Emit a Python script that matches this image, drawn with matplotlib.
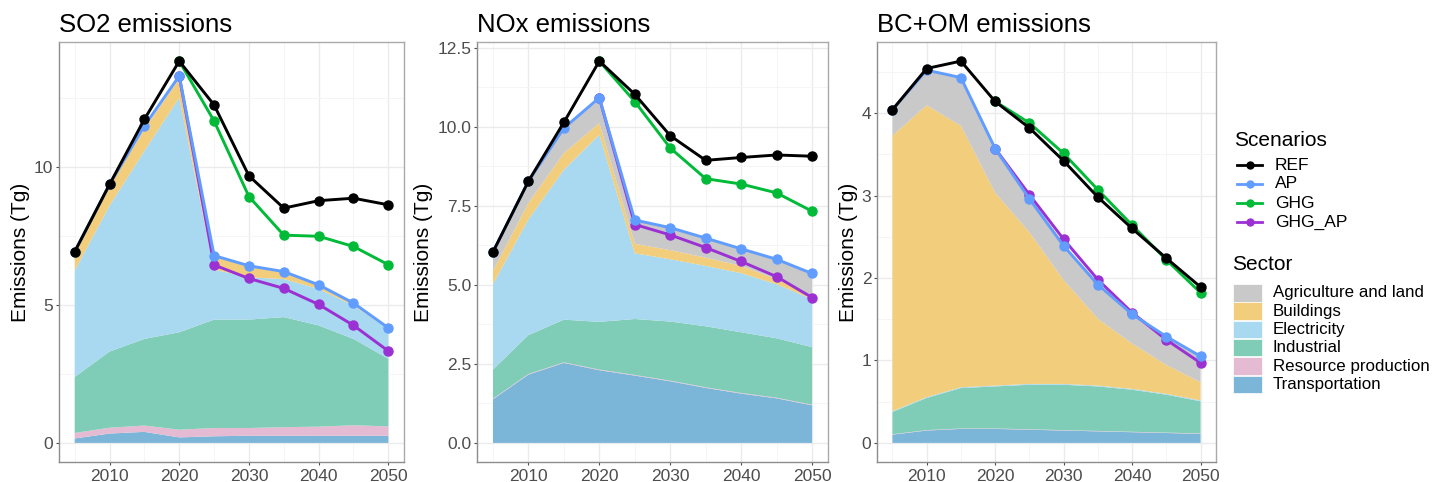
import matplotlib
matplotlib.use("Agg")
import matplotlib.pyplot as plt
from matplotlib.patches import Rectangle
from matplotlib.lines import Line2D

plt.rcParams['font.family'] = ['Liberation Sans', 'DejaVu Sans']

# ---- data ----
years = [2005, 2010, 2015, 2020, 2025, 2030, 2035, 2040, 2045, 2050]
years_fut = [2020, 2025, 2030, 2035, 2040, 2045, 2050]

sectors = ["Agriculture and land", "Buildings", "Electricity", "Industrial",
           "Resource production", "Transportation"]
sector_colors = ["#C9C9C9", "#F1CD7C", "#A9D8F1", "#7FCDB6", "#E5BBD3", "#7BB5D8"]

scenarios = ["REF", "AP", "GHG", "GHG_AP"]
scen_colors = ["#000000", "#619CFF", "#00BA38", "#9B30D3"]

# SO2 (Tg)
so2_ref = [6.93, 9.37, 11.73, 13.84, 12.25, 9.68, 8.51, 8.78, 8.87, 8.63]
so2_ap = [6.93, 9.37, 11.49, 13.30, 6.79, 6.42, 6.21, 5.73, 5.07, 4.17]
so2_ghg = [13.84, 11.67, 8.93, 7.53, 7.49, 7.12, 6.46]
so2_ghgap = [13.30, 6.45, 5.96, 5.60, 5.02, 4.26, 3.33]
so2_agri = [0.02, 0.02, 0.02, 0.02, 0.02, 0.02, 0.02, 0.02, 0.02, 0.02]
so2_bld = [0.66, 0.70, 0.79, 0.69, 0.47, 0.38, 0.22, 0.12, 0.05, 0.02]
so2_elec = [3.85, 5.29, 6.81, 8.50, 1.81, 1.53, 1.38, 1.32, 1.21, 1.08]
so2_ind = [2.03, 2.76, 3.14, 3.53, 3.93, 3.93, 3.99, 3.67, 3.13, 2.45]
so2_res = [0.20, 0.21, 0.23, 0.28, 0.30, 0.28, 0.31, 0.33, 0.38, 0.34]
so2_trn = [0.16, 0.34, 0.40, 0.20, 0.24, 0.26, 0.26, 0.26, 0.26, 0.26]

# NOx (Tg)
nox_ref = [6.04, 8.28, 10.14, 12.08, 11.03, 9.72, 8.94, 9.03, 9.11, 9.07]
nox_ap = [6.04, 8.28, 9.96, 10.92, 7.05, 6.81, 6.48, 6.14, 5.81, 5.36]
nox_ghg = [12.08, 10.80, 9.33, 8.36, 8.19, 7.91, 7.33]
nox_ghgap = [10.92, 6.91, 6.58, 6.18, 5.74, 5.26, 4.60]
nox_agri = [0.60, 0.69, 0.79, 0.73, 0.73, 0.70, 0.61, 0.53, 0.62, 0.70]
nox_bld = [0.42, 0.52, 0.53, 0.37, 0.30, 0.29, 0.26, 0.23, 0.16, 0.10]
nox_elec = [2.70, 3.66, 4.74, 5.92, 2.08, 1.97, 1.91, 1.87, 1.71, 1.52]
nox_ind = [0.92, 1.23, 1.35, 1.51, 1.77, 1.87, 1.93, 1.92, 1.88, 1.82]
nox_res = [0.02, 0.02, 0.02, 0.02, 0.02, 0.02, 0.02, 0.02, 0.02, 0.02]
nox_trn = [1.38, 2.16, 2.53, 2.30, 2.13, 1.95, 1.74, 1.56, 1.41, 1.19]

# BC+OM (Tg)
bc_ref = [4.04, 4.54, 4.63, 4.14, 3.82, 3.42, 2.98, 2.60, 2.24, 1.89]
bc_ap = [4.04, 4.52, 4.43, 3.57, 2.96, 2.39, 1.92, 1.56, 1.29, 1.05]
bc_ghg = [4.14, 3.88, 3.51, 3.07, 2.64, 2.22, 1.82]
bc_ghgap = [3.57, 3.01, 2.47, 1.98, 1.58, 1.25, 0.97]
bc_agri = [0.30, 0.43, 0.59, 0.54, 0.41, 0.42, 0.42, 0.36, 0.35, 0.32]
bc_bld = [3.34, 3.54, 3.17, 2.34, 1.84, 1.26, 0.81, 0.55, 0.35, 0.22]
bc_elec = [0.01, 0.01, 0.01, 0.01, 0.01, 0.01, 0.01, 0.01, 0.01, 0.01]
bc_ind = [0.27, 0.39, 0.49, 0.51, 0.54, 0.55, 0.54, 0.51, 0.46, 0.39]
bc_res = [0.005, 0.005, 0.005, 0.005, 0.005, 0.005, 0.005, 0.005, 0.005, 0.005]
bc_trn = [0.10, 0.15, 0.17, 0.17, 0.16, 0.15, 0.14, 0.13, 0.12, 0.11]

panels = [
    ("SO2 emissions", [so2_agri, so2_bld, so2_elec, so2_ind, so2_res, so2_trn],
     [so2_ref, so2_ap, so2_ghg, so2_ghgap], [0, 5, 10], ["0", "5", "10"]),
    ("NOx emissions", [nox_agri, nox_bld, nox_elec, nox_ind, nox_res, nox_trn],
     [nox_ref, nox_ap, nox_ghg, nox_ghgap], [0, 2.5, 5, 7.5, 10, 12.5],
     ["0.0", "2.5", "5.0", "7.5", "10.0", "12.5"]),
    ("BC+OM emissions", [bc_agri, bc_bld, bc_elec, bc_ind, bc_res, bc_trn],
     [bc_ref, bc_ap, bc_ghg, bc_ghgap], [0, 1, 2, 3, 4], ["0", "1", "2", "3", "4"]),
]

W, H = 1432, 482
fig = plt.figure(figsize=(W / 100, H / 100), dpi=100)

# panel boxes in pixels (left, right)
boxes = [(59, 404), (477, 828), (877, 1216)]
top_px, bot_px = 42, 462

grey_txt = "#4D4D4D"
for (title, secs, lines, yt, ytl), (l, r) in zip(panels, boxes):
    ax = fig.add_axes([l / W, (H - bot_px) / H, (r - l) / W, (bot_px - top_px) / H])

    # stacked sectors, bottom = Transportation
    ax.stackplot(years, *secs[::-1], colors=sector_colors[::-1], linewidth=0, zorder=2)

    # scenario lines, REF on top
    ref, ap, ghg, ghgap = lines
    order = [(years_fut, ghgap, 3), (years, ap, 1), (years_fut, ghg, 2), (years, ref, 0)]
    for xs, ys, ci in order:
        ax.plot(xs, ys, color=scen_colors[ci], lw=2.1, marker='o', ms=6.5, zorder=5)

    ymax = max(ref + ghg)
    pad = 0.05 * ymax
    ax.set_ylim(-pad, ymax + pad)
    ax.set_xlim(2005 - 2.25, 2050 + 2.25)

    ax.set_xticks([2010, 2020, 2030, 2040, 2050])
    ax.set_xticks([2005, 2015, 2025, 2035, 2045], minor=True)
    ax.set_yticks(yt)
    ax.set_yticklabels(ytl)
    step = yt[1] - yt[0]
    ax.set_yticks([v + step / 2 for v in yt if v + step / 2 < ymax + pad], minor=True)

    ax.grid(which='major', color='#EBEBEB', lw=1.0, zorder=0)
    ax.grid(which='minor', color='#F4F4F4', lw=0.6, zorder=0)
    ax.set_axisbelow(True)

    ax.tick_params(axis='both', which='major', labelsize=12.5, colors=grey_txt,
                   length=2.5, width=0.8, pad=1.5)
    ax.tick_params(axis='x', which='major', pad=2.5)
    ax.tick_params(axis='both', which='minor', length=0)
    for s in ax.spines.values():
        s.set_color('#AAAAAA')
        s.set_linewidth(1.0)
    ax.spines['left'].set_color('#8C8C8C')
    ax.spines['bottom'].set_color('#8C8C8C')

    ax.set_title(title, loc='left', fontsize=18.5, pad=7)
    ax.set_ylabel("Emissions (Tg)", fontsize=15, labelpad=3)

# ---- legends drawn in pixel space ----
lg = fig.add_axes([0, 0, 1, 1])
lg.set_xlim(0, W)
lg.set_ylim(H, 0)
lg.axis('off')

lg.text(1234, 141, "Scenarios", fontsize=15, va='center', ha='left')
for i, (name, c) in enumerate(zip(scenarios, scen_colors)):
    y = 165 + i * 19
    lg.add_line(Line2D([1237, 1262], [y, y], color=c, lw=2.0))
    lg.plot([1249.5], [y], marker='o', color=c, ms=5)
    lg.text(1275, y, name, fontsize=12.5, va='center', ha='left')

lg.text(1232, 265, "Sector", fontsize=15, va='center', ha='left')
for i, (name, c) in enumerate(zip(sectors, sector_colors)):
    y = 293 + i * 18.3
    lg.add_patch(Rectangle((1233, y - 9), 29, 17.5, facecolor=c, edgecolor='white', lw=0.5))
    lg.text(1273, y, name, fontsize=12.2, va='center', ha='left')

fig.savefig("out.png", dpi=100)
